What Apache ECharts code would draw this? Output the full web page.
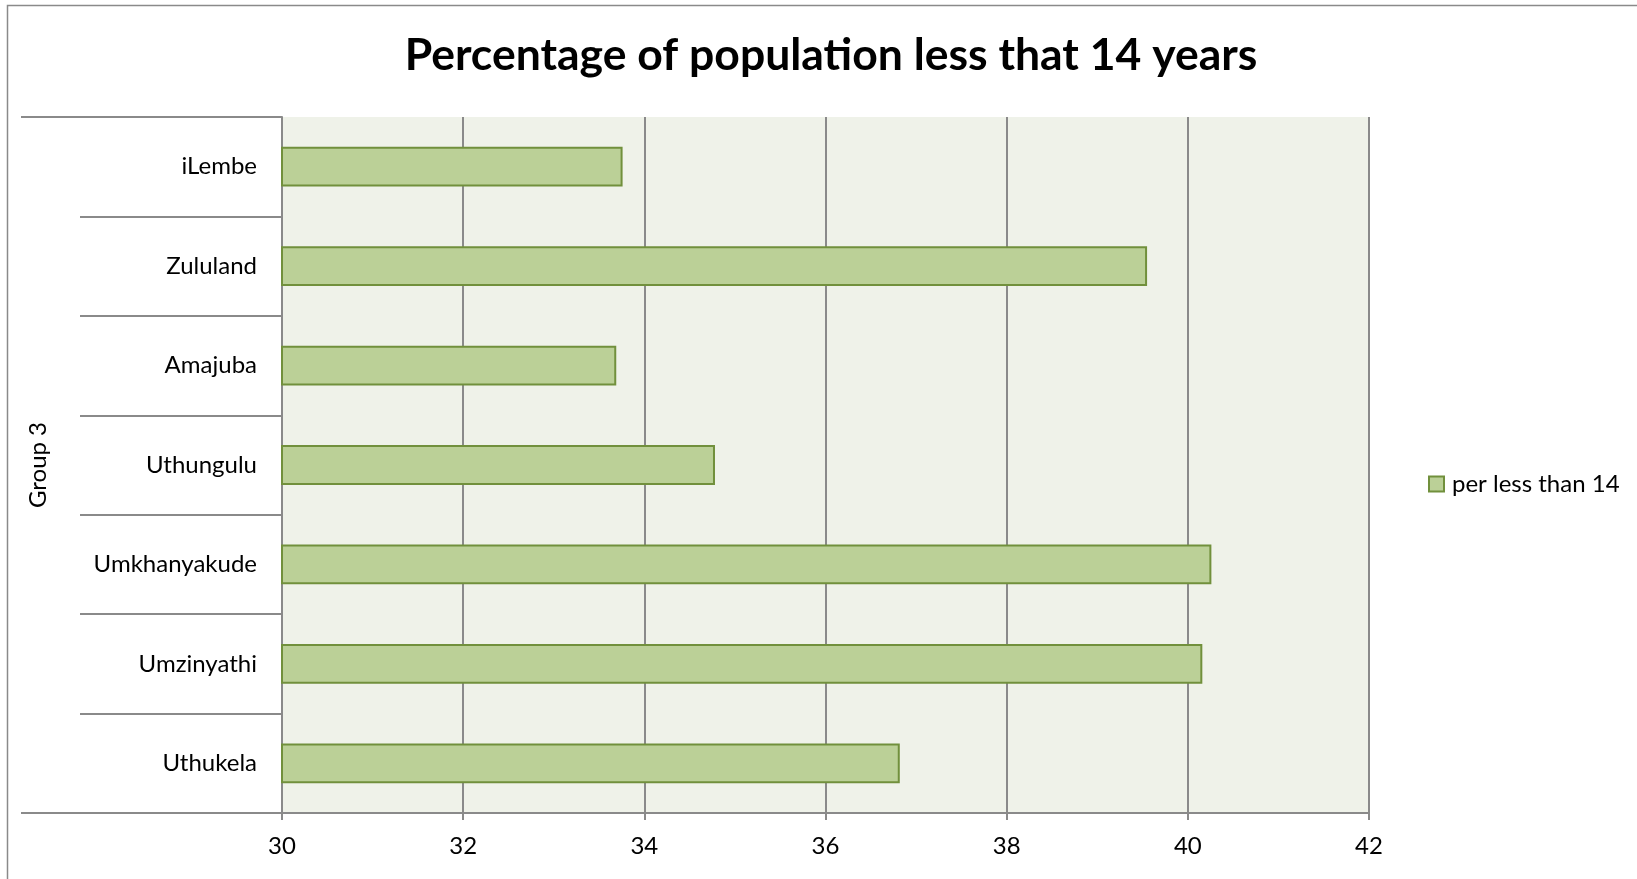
<!DOCTYPE html>
<html>
<head>
<meta charset="utf-8">
<script src="https://cdn.jsdelivr.net/npm/echarts@6/dist/echarts.min.js"></script>
<style>
  html, body { margin: 0; padding: 0; background: #fff; }
  #chart { width: 1637px; height: 879px; }
</style>
</head>
<body>
<div id="chart"></div>
<script>
// districts, top to bottom as in the picture
const districts = ['iLembe', 'Zululand', 'Amajuba', 'Uthungulu', 'Umkhanyakude', 'Umzinyathi', 'Uthukela']
const perLessThan14 = [33.76, 39.55, 33.69, 34.78, 40.26, 40.16, 36.82]
const groupNames = ['Group 3']
const seriesName = 'per less than 14'

const font = 'Lato'
const gray = '#8a8a8a'
const labelSize = 24

const chart = echarts.init(document.getElementById('chart'))

const option = {
  backgroundColor: '#fff',
  textStyle: { fontFamily: font },
  title: {
    text: 'Percentage of population less that 14 years',
    left: 826,
    textAlign: 'center',
    top: 28,
    textStyle: { fontFamily: font, fontSize: 44.5, fontWeight: 'bold', color: '#000' }
  },
  graphic: [
    {
      type: 'rect',
      shape: { x: 7.5, y: 5.5, width: 1800, height: 1000 },
      style: { fill: 'none', stroke: gray, lineWidth: 1.5 },
      silent: true
    }
  ],
  legend: {
    data: [seriesName],
    left: 1423,
    top: 467,
    icon: 'rect',
    itemWidth: 15,
    itemHeight: 15,
    textStyle: { fontFamily: font, fontSize: labelSize, color: '#000', padding: [0, 0, 0, 3] }
  },
  grid: {
    left: 282,
    right: 268,
    top: 117,
    bottom: 66,
    show: true,
    backgroundColor: '#eff2e9',
    borderWidth: 0
  },
  xAxis: {
    type: 'value',
    min: 30,
    max: 42,
    interval: 2,
    axisLine: { show: true, lineStyle: { color: gray, width: 2 } },
    axisTick: { show: true, length: 7, lineStyle: { color: gray, width: 2 } },
    splitLine: { show: true, lineStyle: { color: gray, width: 2 } },
    axisLabel: { fontFamily: font, fontSize: labelSize, color: '#000', margin: 21 }
  },
  yAxis: [
    {
      type: 'category',
      data: districts,
      inverse: true,
      position: 'left',
      axisLine: { show: true, lineStyle: { color: gray, width: 2 } },
      axisTick: { show: true, interval: 0, length: 202, lineStyle: { color: gray, width: 2 } },
      axisLabel: { fontFamily: font, fontSize: labelSize, color: '#000', margin: 25 }
    },
    {
      type: 'category',
      data: groupNames,
      position: 'left',
      offset: 0,
      axisLine: { show: false },
      axisTick: { show: true, length: 261, lineStyle: { color: gray, width: 2 } },
      axisLabel: { show: false },
      name: groupNames[0],
      nameLocation: 'middle',
      nameRotate: 90,
      nameGap: 232,
      nameTextStyle: { fontFamily: font, fontSize: labelSize, color: '#000' }
    }
  ],
  series: [
    {
      name: seriesName,
      type: 'bar',
      yAxisIndex: 0,
      data: perLessThan14,
      barCategoryGap: '60%',
      itemStyle: { color: '#bbd097', borderColor: '#71903c', borderWidth: 2 }
    }
  ]
}

chart.setOption(option)
</script>
</body>
</html>
